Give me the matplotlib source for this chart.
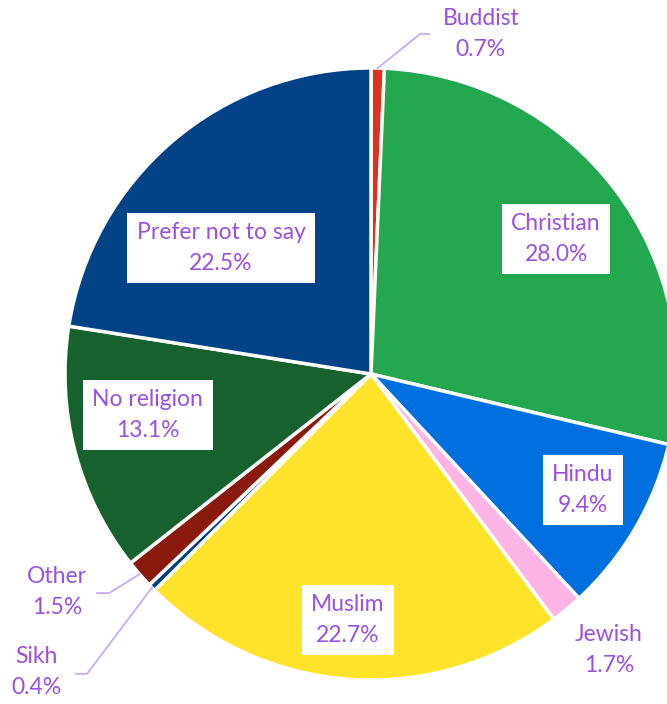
import numpy as np
import matplotlib
matplotlib.use('Agg')
import matplotlib.pyplot as plt

### religion breakdown pie chart
religions = ['Buddist', 'Christian', 'Hindu', 'Jewish', 'Muslim', 'Sikh', 'Other', 'No religion', 'Prefer not to say']
shares = [0.7, 28.0, 9.4, 1.7, 22.7, 0.4, 1.5, 13.1, 22.5]
colors = ['#E0301E', '#24A84F', '#0070E0', '#FBB4E3', '#FFE22A', '#003D85', '#8B1A0E', '#17612E', '#024286']

# label centres, in units of the pie radius (pie centred at 0,0)
label_pos = [(0.359, 1.111), (0.605, 0.441), (0.693, -0.379), (0.778, -0.902), (-0.075, -0.804),
             (-1.092, -0.974), (-1.026, -0.712), (-0.729, -0.134), (-0.490, 0.412)]
# which labels sit inside a white box
boxed = [False, True, True, False, True, False, False, True, True]
# leader line elbows for the small outside slices (index -> [elbow, end])
leaders = {0: [(0.160, 1.111), (0.190, 1.111)],
           5: [(-0.928, -0.980), (-0.964, -0.980)],
           6: [(-0.856, -0.716), (-0.895, -0.716)]}

text_color = '#9B51E0'
line_color = '#CDAAF5'

plt.rcParams['font.family'] = ['Lato', 'DejaVu Sans']

fig = plt.figure(figsize=(6.67, 7.04), dpi=100)
ax = fig.add_axes([0, 0, 1, 1])

wedges, _ = ax.pie(shares, colors=colors, startangle=90, counterclock=False, radius=1.0,
                   wedgeprops=dict(edgecolor='white', linewidth=2.5))

R = 306.0
ax.set_xlim(-371/R, (667-371)/R)
ax.set_ylim(-(704-374)/R, 374/R)
ax.set_aspect('equal')
ax.axis('off')

for i, (name, val) in enumerate(zip(religions, shares)):
    x, y = label_pos[i]
    txt = name + '\n' + '{:.1f}%'.format(val)
    kw = dict(ha='center', va='center', color=text_color, fontsize=16.5, linespacing=1.6)
    if boxed[i]:
        kw['bbox'] = dict(facecolor='white', edgecolor='none', boxstyle='square,pad=0.4')
    ax.text(x, y, txt, **kw)
    if i in leaders:
        w = wedges[i]
        mid = np.deg2rad((w.theta1 + w.theta2) / 2)
        pts = [(np.cos(mid), np.sin(mid))] + leaders[i]
        xs, ys = zip(*pts)
        ax.plot(xs, ys, color=line_color, lw=1.3)

fig.savefig('out.png', dpi=100)
